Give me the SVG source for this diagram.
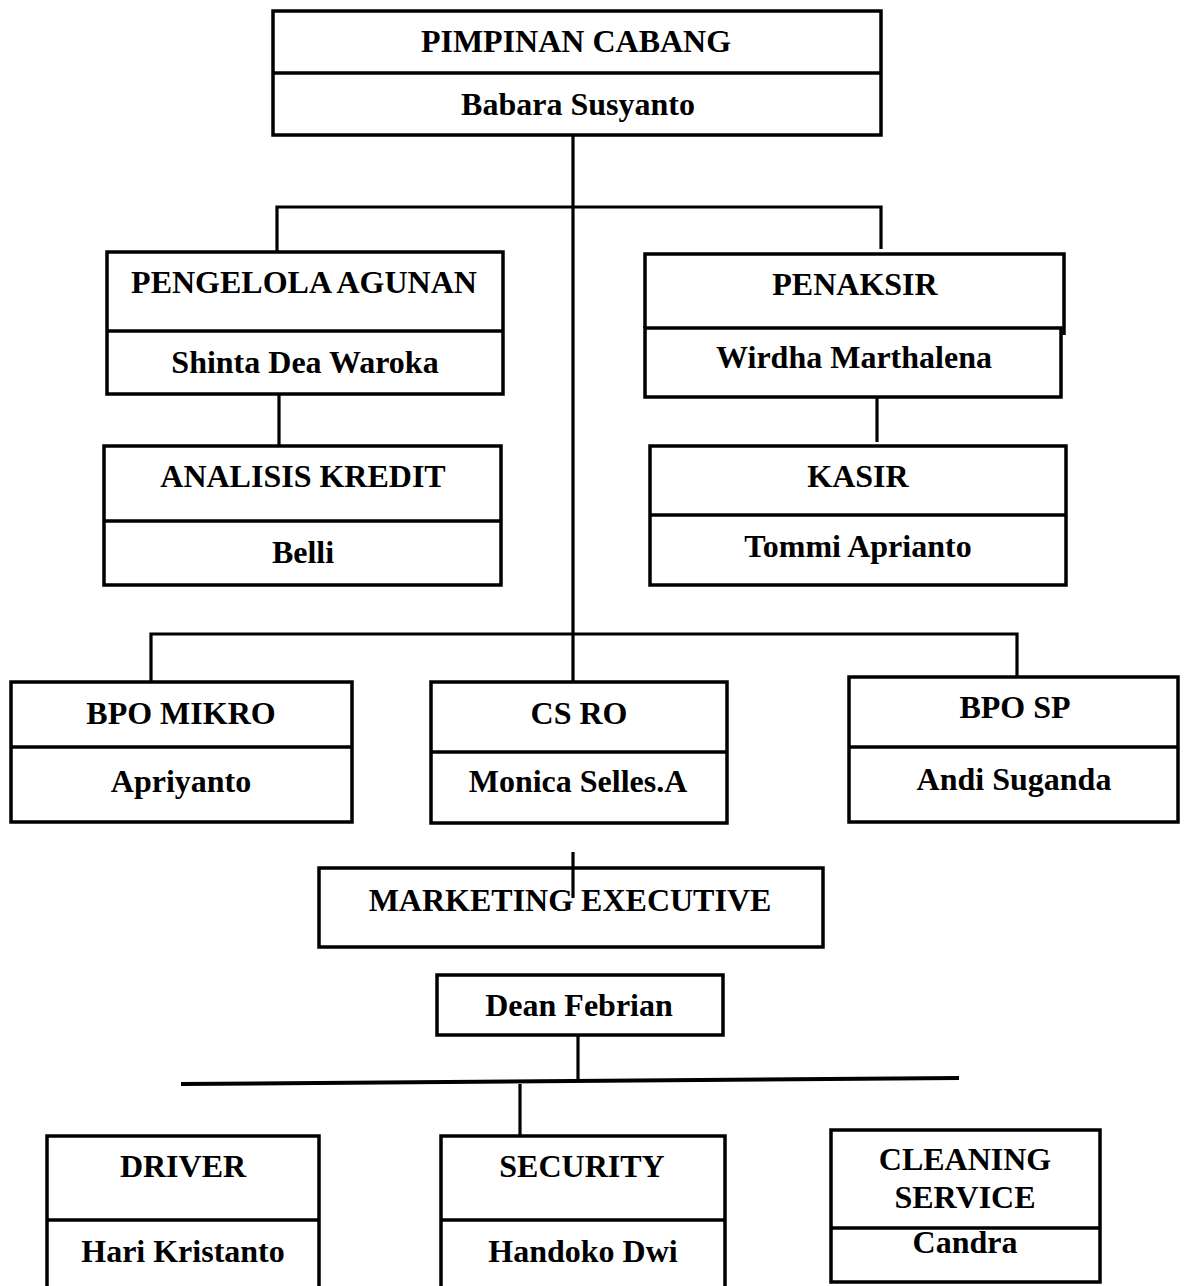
<svg xmlns="http://www.w3.org/2000/svg" width="1184" height="1286" viewBox="0 0 1184 1286">
<style>
.box{fill:#fff;stroke:#000;stroke-width:3.5}
.ln{fill:none;stroke:#000;stroke-width:3.5}
.cn{fill:none;stroke:#000;stroke-width:3.2}
text{font-family:"Liberation Serif","Times New Roman",serif;font-weight:bold;font-size:32px;fill:#000;text-anchor:middle}
</style>
<rect x="0" y="0" width="1184" height="1286" fill="#fff"/>
<g id="connectors">
<path class="cn" d="M573,136 V682"/>
<path class="cn" d="M277,258 V207 H881 V249"/>
<path class="cn" d="M279,394 V446"/>
<path class="cn" d="M877,394 V442"/>
<path class="cn" d="M151,681 V634 H1017 V677"/>
<path class="cn" d="M578,1035 V1082"/>
<path fill="none" stroke="#000" stroke-width="4" d="M181,1084 L959,1078"/>
<path class="cn" d="M520,1084 V1136"/>
</g>
<g id="pimpinan">
<rect class="box" x="273" y="11" width="608" height="124"/>
<line class="ln" x1="273" y1="73" x2="881" y2="73"/>
<text x="576" y="52">PIMPINAN CABANG</text>
<text x="578" y="115">Babara Susyanto</text>
</g>
<g id="pengelola">
<rect class="box" x="107" y="252" width="396" height="142"/>
<line class="ln" x1="107" y1="331" x2="503" y2="331"/>
<text x="304" y="293">PENGELOLA AGUNAN</text>
<text x="305" y="373">Shinta Dea Waroka</text>
</g>
<g id="analisis">
<rect class="box" x="104" y="446" width="397" height="139"/>
<line class="ln" x1="104" y1="521" x2="501" y2="521"/>
<text x="303" y="487">ANALISIS KREDIT</text>
<text x="303" y="563">Belli</text>
</g>
<g id="penaksir">
<path class="ln" d="M645,328 V254 H1064 V335"/>
<rect class="box" x="645" y="328" width="416" height="69"/>
<text x="855" y="295">PENAKSIR</text>
<text x="854" y="368">Wirdha Marthalena</text>
</g>
<g id="kasir">
<rect class="box" x="650" y="446" width="416" height="139"/>
<line class="ln" x1="650" y1="515" x2="1066" y2="515"/>
<text x="858" y="487">KASIR</text>
<text x="858" y="557">Tommi Aprianto</text>
</g>
<g id="bpo-mikro">
<rect class="box" x="11" y="682" width="341" height="140"/>
<line class="ln" x1="11" y1="747" x2="352" y2="747"/>
<text x="181" y="724">BPO MIKRO</text>
<text x="181" y="792">Apriyanto</text>
</g>
<g id="cs-ro">
<rect class="box" x="431" y="682" width="296" height="141"/>
<line class="ln" x1="431" y1="752" x2="727" y2="752"/>
<text x="579" y="724">CS RO</text>
<text x="578" y="792">Monica Selles.A</text>
</g>
<g id="bpo-sp">
<rect class="box" x="849" y="677" width="329" height="145"/>
<line class="ln" x1="849" y1="747" x2="1178" y2="747"/>
<text x="1015" y="718">BPO SP</text>
<text x="1014" y="790">Andi Suganda</text>
</g>
<g id="marketing">
<rect class="box" x="319" y="868" width="504" height="79"/>
<text x="570" y="911">MARKETING EXECUTIVE</text>
</g>
<g id="connector-marketing">
<path class="cn" d="M573,852 V898"/>
</g>
<g id="dean">
<rect class="box" x="437" y="975" width="286" height="60"/>
<text x="579" y="1016">Dean Febrian</text>
</g>
<g id="driver">
<rect class="box" x="47" y="1136" width="272" height="170"/>
<line class="ln" x1="47" y1="1220" x2="319" y2="1220"/>
<text x="183" y="1177">DRIVER</text>
<text x="183" y="1262">Hari Kristanto</text>
</g>
<g id="security">
<rect class="box" x="441" y="1136" width="284" height="170"/>
<line class="ln" x1="441" y1="1220" x2="725" y2="1220"/>
<text x="582" y="1177">SECURITY</text>
<text x="583" y="1262">Handoko Dwi</text>
</g>
<g id="cleaning">
<rect class="box" x="831" y="1130" width="269" height="152"/>
<line class="ln" x1="831" y1="1228" x2="1100" y2="1228"/>
<text x="965" y="1170">CLEANING</text>
<text x="965" y="1208">SERVICE</text>
<text x="965" y="1253">Candra</text>
</g>
</svg>
